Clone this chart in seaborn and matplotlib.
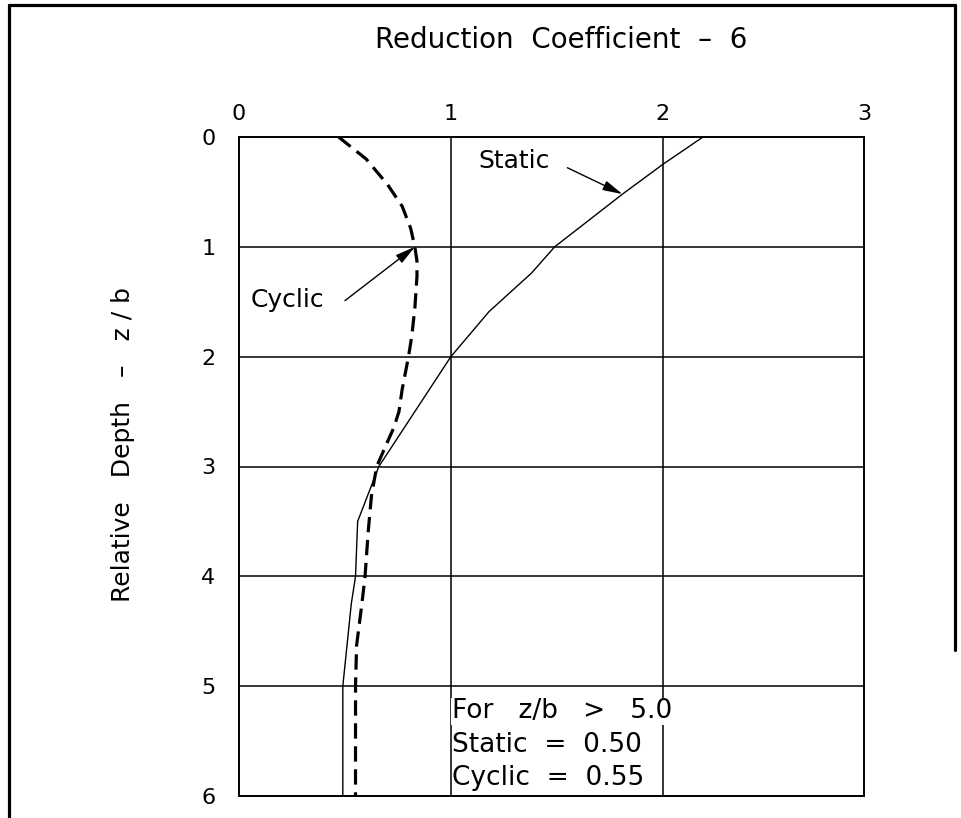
import matplotlib
matplotlib.use("Agg")
import matplotlib.pyplot as plt
from matplotlib.lines import Line2D
import seaborn as sns
import pandas as pd

# ---- data ----
static_depth = [0.0, 0.25, 0.52, 1.0, 1.24, 1.59, 2.0, 3.0, 3.5, 4.0, 4.25, 5.0, 6.0]
static_coef = [2.19, 2.00, 1.81, 1.49, 1.38, 1.18, 1.00, 0.66, 0.56, 0.55, 0.53, 0.49, 0.49]

cyclic_depth = [0.0, 0.2, 0.43, 0.63, 0.83, 1.0, 1.13, 1.27, 1.56, 1.82, 2.0, 2.3,
                2.5, 2.65, 2.8, 3.0, 3.27, 3.59, 4.0, 4.25, 4.63, 5.0, 6.0]
cyclic_coef = [0.47, 0.60, 0.70, 0.77, 0.81, 0.83, 0.84, 0.84, 0.83, 0.815, 0.80, 0.77,
               0.755, 0.73, 0.695, 0.65, 0.625, 0.61, 0.595, 0.58, 0.555, 0.55, 0.55]

x_ticks = [0, 1, 2, 2.95]
x_tick_labels = ["0", "1", "2", "3"]
y_ticks = [0, 1, 2, 3, 4, 5, 6]
y_tick_labels = ["0", "1", "2", "3", "4", "5", "6"]

title_text = "Reduction  Coefficient  \u2013  6"
ylabel_text = "Relative   Depth   \u2013   z / b"
note_lines = ["For   z/b   >   5.0", "Static  =  0.50", "Cyclic  =  0.55"]

static_df = pd.DataFrame({"coef": static_coef, "depth": static_depth})
cyclic_df = pd.DataFrame({"coef": cyclic_coef, "depth": cyclic_depth})

sns.set_theme(style="white")
plt.rcParams["font.family"] = ["DejaVu Sans"]
plt.rcParams["text.color"] = "black"
plt.rcParams["axes.labelcolor"] = "black"
plt.rcParams["xtick.color"] = "black"
plt.rcParams["ytick.color"] = "black"

fig = plt.figure(figsize=(9.61, 8.18), dpi=100)
ax = fig.add_axes([239 / 961, 1 - 796 / 818, (864 - 239) / 961, (796 - 137) / 818])

# grid
for gx in [1, 2]:
    ax.axvline(gx, color="black", lw=1.1, zorder=1)
for gy in [1, 2, 3, 4, 5]:
    ax.axhline(gy, color="black", lw=1.1, zorder=1)

sns.lineplot(data=static_df, x="coef", y="depth", sort=False, estimator=None,
             color="black", lw=1.0, ax=ax, zorder=3)
sns.lineplot(data=cyclic_df, x="coef", y="depth", sort=False, estimator=None,
             color="black", lw=2.3, ax=ax, zorder=3, dashes=False)
ax.lines[-1].set_dashes([4.8, 2.4])

ax.set_xlim(0, 2.95)
ax.set_ylim(6, 0)
ax.xaxis.tick_top()
ax.set_xticks(x_ticks)
ax.set_xticklabels(x_tick_labels, fontsize=16)
ax.set_yticks(y_ticks)
ax.set_yticklabels(y_tick_labels, fontsize=16)
ax.tick_params(axis="x", length=0, pad=9)
ax.tick_params(axis="y", length=0, pad=17)
ax.set_xlabel("")
ax.set_ylabel("")
for sp in ax.spines.values():
    sp.set_color("black")
    sp.set_linewidth(1.4)
    sp.set_visible(True)

fig.text(0.584, 1 - 40 / 818, title_text, fontsize=20, ha="center", va="center")
fig.text(123 / 961, 1 - 445 / 818, ylabel_text, fontsize=18, rotation=90,
         ha="center", va="center")

# labels and arrows
arrow_style = dict(arrowstyle="-|>,head_length=1.0,head_width=0.25",
                   color="black", lw=1.0, shrinkA=0, shrinkB=0)
ax.text(1.30, 0.22, "Static", fontsize=18, ha="center", va="center")
ax.annotate("", xy=(1.81, 0.52), xytext=(1.55, 0.28), arrowprops=arrow_style)
ax.text(0.23, 1.48, "Cyclic", fontsize=18, ha="center", va="center")
ax.annotate("", xy=(0.83, 1.0), xytext=(0.50, 1.49), arrowprops=arrow_style)

note_y = [5.23, 5.54, 5.84]
for i, (t, yv) in enumerate(zip(note_lines, note_y)):
    kw = {}
    if i == 0:
        kw["bbox"] = dict(facecolor="white", edgecolor="none", pad=0.5)
    ax.text(1.005, yv, t, fontsize=19, ha="left", va="center", zorder=4, **kw)

# outer frame
lw_f = 2.3
fig.add_artist(Line2D([9 / 961, 955 / 961], [1 - 5 / 818, 1 - 5 / 818], color="black", lw=lw_f))
fig.add_artist(Line2D([9 / 961, 9 / 961], [0, 1 - 5 / 818], color="black", lw=lw_f))
fig.add_artist(Line2D([955 / 961, 955 / 961], [1 - 650 / 818, 1 - 5 / 818], color="black", lw=lw_f))

fig.savefig("out.png", dpi=100, facecolor="white")
